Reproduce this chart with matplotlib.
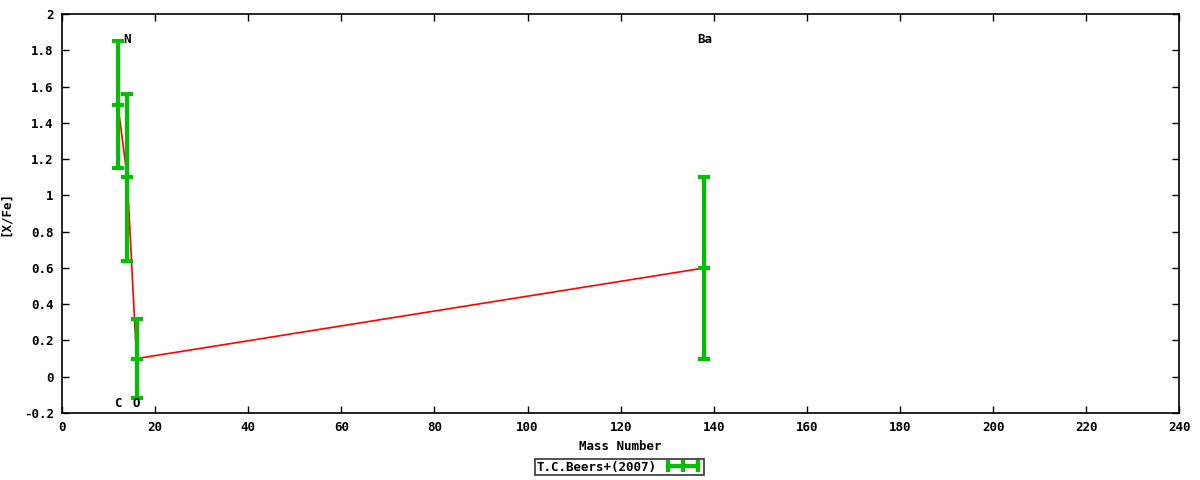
import matplotlib
matplotlib.use("Agg")
import matplotlib.pyplot as plt
from matplotlib.lines import Line2D

# abundance data, T.C.Beers+(2007)
elements = ["C", "N", "O", "Ba"]
mass_number = [12, 14, 16, 138]
x_fe = [1.50, 1.10, 0.10, 0.60]
x_fe_err = [0.35, 0.46, 0.22, 0.50]
label_y = [-0.15, 1.86, -0.15, 1.86]

green = "#00c000"
font = dict(family="DejaVu Sans Mono", fontweight="bold", fontsize=9)

fig = plt.figure(figsize=(12, 4.8), dpi=100)
ax = fig.add_axes([0.0517, 0.1396, 0.931, 0.831])

ax.plot(mass_number, x_fe, color="red", lw=1.2, zorder=2)
ax.errorbar(mass_number, x_fe, yerr=x_fe_err, fmt="none", ecolor=green,
            elinewidth=3, capsize=4, capthick=3, zorder=3)
# center tick marks like gnuplot's errorbar style
ax.plot(mass_number, x_fe, ls="none", marker="_", ms=9, mew=3, color=green, zorder=3)

for el, m, ly in zip(elements, mass_number, label_y):
    ax.text(m, ly, el, ha="center", va="center", **font)

ax.set_xlim(0, 240)
ax.set_ylim(-0.2, 2)
ax.set_xticks(range(0, 241, 20))
ax.set_yticks([-0.2, 0, 0.2, 0.4, 0.6, 0.8, 1, 1.2, 1.4, 1.6, 1.8, 2])
ax.set_yticklabels(["-0.2", "0", "0.2", "0.4", "0.6", "0.8", "1", "1.2", "1.4", "1.6", "1.8", "2"])
ax.tick_params(direction="in", top=True, right=True, length=5, width=1, pad=6)
for lbl in ax.get_xticklabels() + ax.get_yticklabels():
    lbl.set_fontfamily("DejaVu Sans Mono")
    lbl.set_fontweight("bold")
    lbl.set_fontsize(9)
for sp in ax.spines.values():
    sp.set_linewidth(1.2)

ax.set_xlabel("Mass Number", labelpad=4, **font)
ax.set_ylabel("[X/Fe]", **font)
ax.yaxis.set_label_coords(-0.045, 0.5)

# legend sample: horizontal bar with caps at the ends and in the middle
handle = Line2D([0], [0], color=green, lw=3, marker="|", ms=9, mew=3)
leg = fig.legend([handle], ["T.C.Beers+(2007)"], loc="center",
                 bbox_to_anchor=(0.516, 0.027), frameon=True, fancybox=False,
                 borderpad=0.15, handlelength=3, handletextpad=0.6,
                 numpoints=3, markerfirst=False,
                 prop=dict(family="DejaVu Sans Mono", weight="bold", size=9))
leg.get_frame().set_edgecolor("black")
leg.get_frame().set_linewidth(1.2)

fig.savefig("out.png", dpi=100)
